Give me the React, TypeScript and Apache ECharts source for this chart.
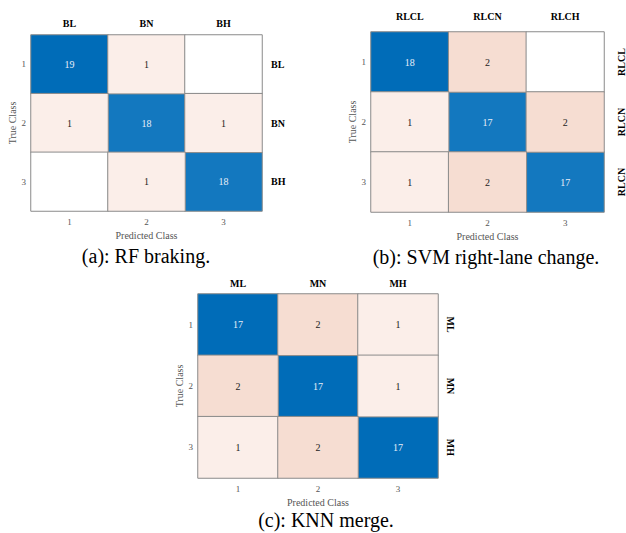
import React, { useEffect, useRef } from "react";
import * as echarts from "echarts";

const tickLabels = ["1", "2", "3"];

const topA = ["BL", "BN", "BH"];
const rightA = ["BL", "BN", "BH"];
const matrixA = [
  [19, 1, 0],
  [1, 18, 1],
  [0, 1, 18],
];
const captionA = "(a): RF braking.";

const topB = ["RLCL", "RLCN", "RLCH"];
const rightB = ["RLCL", "RLCN", "RLCN"];
const matrixB = [
  [18, 2, 0],
  [1, 17, 2],
  [1, 2, 17],
];
const captionB = "(b): SVM right-lane change.";

const topC = ["ML", "MN", "MH"];
const rightC = ["ML", "MN", "MH"];
const matrixC = [
  [17, 2, 1],
  [2, 17, 1],
  [1, 2, 17],
];
const captionC = "(c): KNN merge.";

const SERIF = "'Liberation Serif', 'Times New Roman', serif";

type Panel = {
  top: string[];
  right: string[];
  matrix: number[][];
  caption: string;
  grid: { left: number; top: number; width: number; height: number };
  rightRotate: number;
  rightMargin: number;
  topMargin: number;
  caption_xy: [number, number];
};

const panels: Panel[] = [
  {
    top: topA, right: rightA, matrix: matrixA, caption: captionA,
    grid: { left: 31, top: 35, width: 231, height: 176 },
    rightRotate: 0, rightMargin: 9, topMargin: 7, caption_xy: [146, 256],
  },
  {
    top: topB, right: rightB, matrix: matrixB, caption: captionB,
    grid: { left: 371, top: 32, width: 235, height: 180 },
    rightRotate: 90, rightMargin: 17, topMargin: 11, caption_xy: [486, 257],
  },
  {
    top: topC, right: rightC, matrix: matrixC, caption: captionC,
    grid: { left: 198, top: 294, width: 240, height: 184 },
    rightRotate: -90, rightMargin: 12, topMargin: 6, caption_xy: [326, 520],
  },
];

function buildOption() {
  const grid: any[] = [];
  const xAxis: any[] = [];
  const yAxis: any[] = [];
  const series: any[] = [];
  const visualMap: any[] = [];
  const graphic: any[] = [];

  panels.forEach((p, i) => {
    grid.push({ ...p.grid, containLabel: false });
    const hidden = { show: false };
    xAxis.push({
      type: "category", gridIndex: i, data: tickLabels, position: "bottom",
      axisLine: hidden, axisTick: hidden, splitLine: hidden,
      axisLabel: { fontFamily: SERIF, fontSize: 9, color: "#555", margin: 6 },
      name: "Predicted Class", nameLocation: "middle", nameGap: 19,
      nameTextStyle: { fontFamily: SERIF, fontSize: 10, color: "#555" },
    });
    xAxis.push({
      type: "category", gridIndex: i, data: p.top, position: "top",
      axisLine: hidden, axisTick: hidden, splitLine: hidden,
      axisLabel: { fontFamily: SERIF, fontSize: 10, fontWeight: "bold", color: "#000", margin: p.topMargin },
    });
    yAxis.push({
      type: "category", gridIndex: i, data: tickLabels, inverse: true, position: "left",
      axisLine: hidden, axisTick: hidden, splitLine: hidden,
      axisLabel: { fontFamily: SERIF, fontSize: 9, color: "#555", margin: 5 },
      name: "True Class", nameLocation: "middle", nameGap: 13, nameRotate: 90,
      nameTextStyle: { fontFamily: SERIF, fontSize: 10, color: "#555" },
    });
    yAxis.push({
      type: "category", gridIndex: i, data: p.right, inverse: true, position: "right",
      axisLine: hidden, axisTick: hidden, splitLine: hidden,
      axisLabel: {
        fontFamily: SERIF, fontSize: 10, fontWeight: "bold", color: "#000",
        margin: p.rightMargin, rotate: p.rightRotate,
        align: p.rightRotate === 0 ? "left" : "center",
        verticalAlign: "middle",
      },
    });

    const diag: any[] = [];
    const off: any[] = [];
    let dmax = 0;
    p.matrix.forEach((row, r) =>
      row.forEach((v, c) => {
        if (r === c) { diag.push([c, r, v]); dmax = Math.max(dmax, v); }
        else off.push([c, r, v]);
      })
    );
    const base = {
      type: "heatmap", xAxisIndex: 2 * i, yAxisIndex: 2 * i,
      itemStyle: { borderColor: "#8a8a8a", borderWidth: 1 },
      emphasis: { disabled: true },
    };
    series.push({
      ...base, data: diag,
      label: { show: true, fontFamily: SERIF, fontSize: 10, color: "#e8eef8" },
    });
    series.push({
      ...base, data: off,
      label: {
        show: true, fontFamily: SERIF, fontSize: 10, color: "#222",
        formatter: (q: any) => (q.value[2] === 0 ? "" : String(q.value[2])),
      },
    });
    visualMap.push({
      show: false, type: "continuous", seriesIndex: 2 * i, dimension: 2,
      min: dmax - 1, max: dmax, inRange: { color: ["#1378bf", "#006cb8"] },
    });
    visualMap.push({
      show: false, type: "continuous", seriesIndex: 2 * i + 1, dimension: 2,
      min: 0, max: 2, inRange: { color: ["#ffffff", "#f6ddd2"] },
    });
    graphic.push({
      type: "text", x: p.caption_xy[0], y: p.caption_xy[1],
      style: {
        text: p.caption, fontFamily: SERIF, fontSize: 20, fill: "#000",
        align: "center", verticalAlign: "middle",
      },
    });
  });

  return { animation: false, backgroundColor: "#fff", grid, xAxis, yAxis, series, visualMap, graphic };
}

export default function App() {
  const ref = useRef<HTMLDivElement>(null);
  useEffect(() => {
    if (!ref.current) return;
    const chart = echarts.init(ref.current, undefined, { renderer: "svg" });
    chart.setOption(buildOption() as any);
    return () => chart.dispose();
  }, []);
  return (
    <div
      ref={ref}
      style={{ position: "fixed", left: 0, top: 0, width: 626, height: 533 }}
    />
  );
}
